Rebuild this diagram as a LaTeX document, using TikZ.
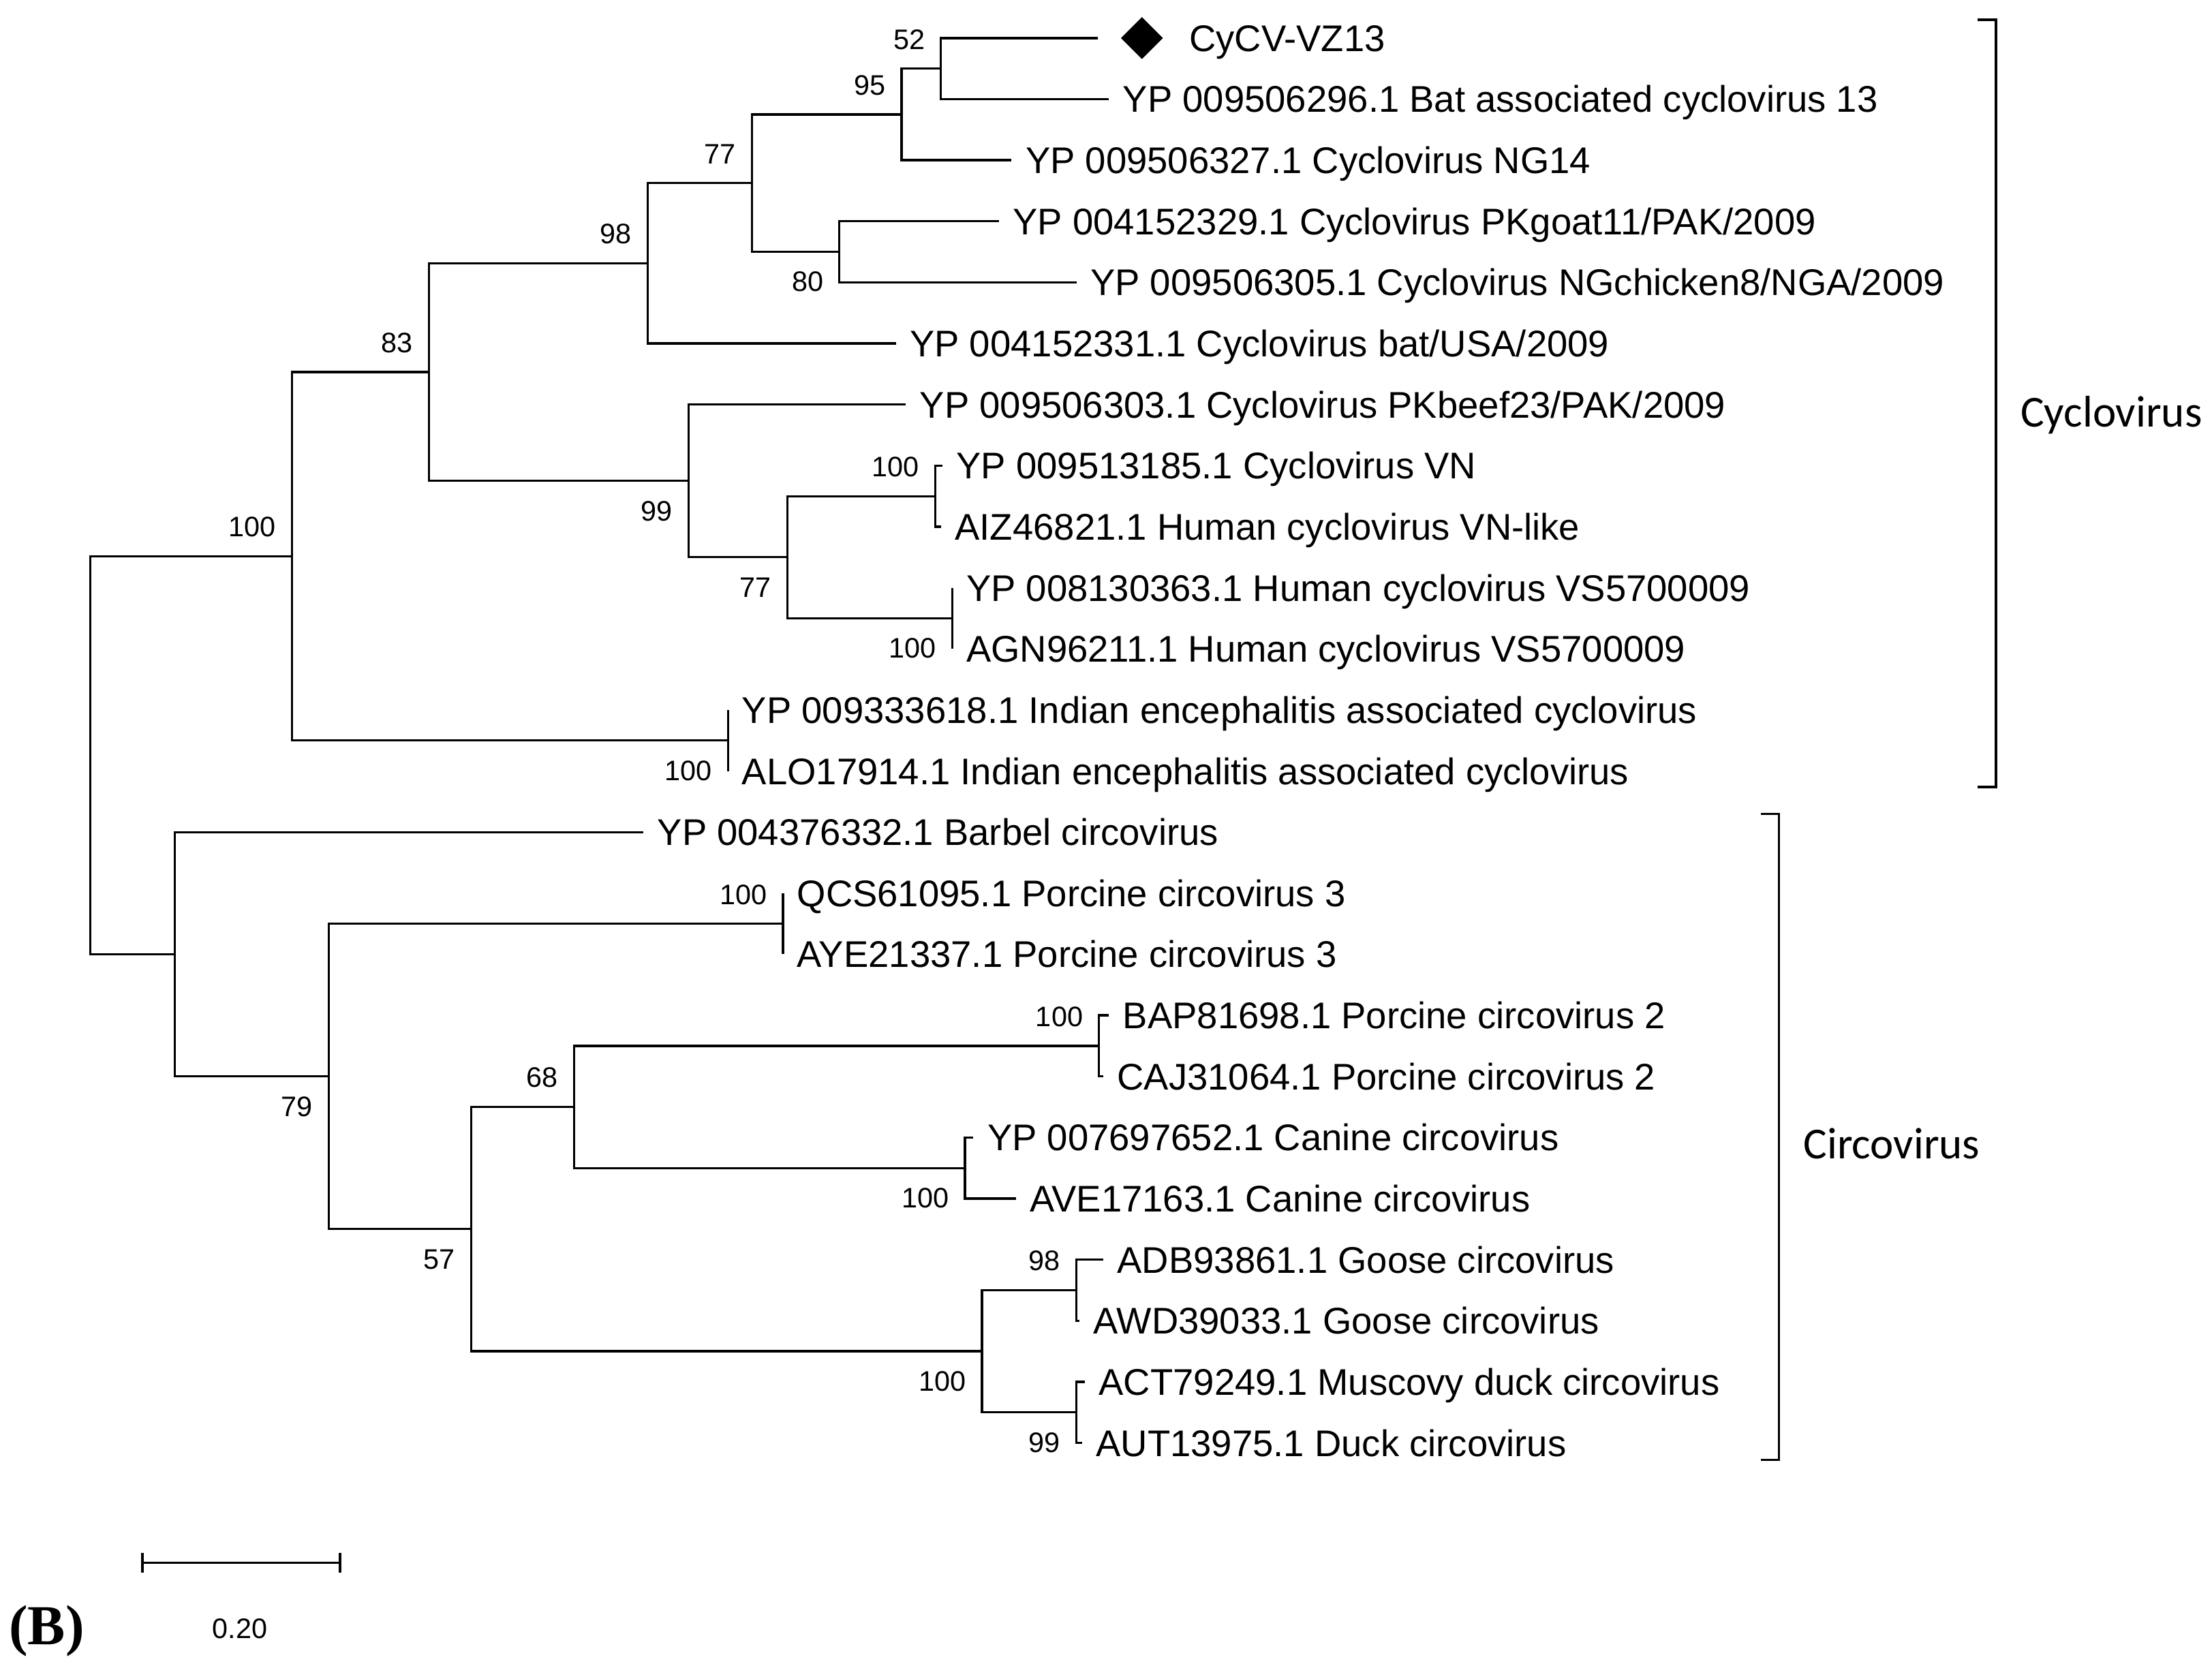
\documentclass[tikz,border=0pt]{standalone}
\usepackage{fontspec}
\setmainfont{Liberation Sans}
\newfontfamily\cladefont{Carlito}
\newfontfamily\panelfont{Liberation Serif}
\usetikzlibrary{shapes.geometric}
\begin{document}
\begin{tikzpicture}[x=0.5pt,y=-0.5pt,
  br/.style={line width=0.8pt},
  leaf/.style={anchor=west, inner sep=0pt, outer xsep=5pt, outer ysep=0pt,
    font=\fontsize{13.15}{15}\selectfont, text height=9.4pt, text depth=0pt},
  bs/.style={anchor=east, inner sep=0pt, font=\fontsize{10}{12}\selectfont,
    text height=7.2pt, text depth=0pt},
  clade/.style={anchor=west, inner sep=0pt, font=\cladefont\fontsize{15.7}{18}\selectfont,
    text height=9.9pt, text depth=0pt},
  bracket/.style={line width=0.9pt},
]
\useasboundingbox (0,0) rectangle (1568,1181);

% internal nodes
\coordinate (N52) at (667,48.65);
\coordinate (N95) at (639,81.125);
\coordinate (N80) at (595,178.55);
\coordinate (N77a) at (533,129.84);
\coordinate (N98) at (459,186.67);
\coordinate (NVN) at (663,351.75);
\coordinate (NVS) at (675,438.35);
\coordinate (N77b) at (558,395.05);
\coordinate (N99) at (488,340.93);
\coordinate (N83) at (304,263.8);
\coordinate (NIND) at (516,524.95);
\coordinate (NCYC) at (207,394.38);
\coordinate (NPCV3) at (555,654.85);
\coordinate (NPCV2) at (779,741.45);
\coordinate (NCAN) at (684,828.05);
\coordinate (N68) at (407,784.75);
\coordinate (NG98) at (763,914.65);
\coordinate (ND99) at (763,1001.25);
\coordinate (NG100) at (696,957.95);
\coordinate (N57) at (334,871.35);
\coordinate (N79) at (233,763.1);
\coordinate (NCIR) at (124,676.5);
\coordinate (ROOT) at (64,535.44);
\coordinate (t1) at (778,27);

% leaves (west anchor = branch tip; text starts 10 units further right)
\node[diamond, fill=black, inner sep=0pt, minimum width=15pt, minimum height=15pt] (dia) at (809.5,27) {};
\node[leaf] (l1) at (833,27) {CyCV-VZ13};
\node[leaf] (l2) at (786,70.3) {YP 009506296.1 Bat associated cyclovirus 13};
\node[leaf] (l3) at (717,113.6) {YP 009506327.1 Cyclovirus NG14};
\node[leaf] (l4) at (708,156.9) {YP 004152329.1 Cyclovirus PKgoat11/PAK/2009};
\node[leaf] (l5) at (763,200.2) {YP 009506305.1 Cyclovirus NGchicken8/NGA/2009};
\node[leaf] (l6) at (635,243.5) {YP 004152331.1 Cyclovirus bat/USA/2009};
\node[leaf] (l7) at (642,286.8) {YP 009506303.1 Cyclovirus PKbeef23/PAK/2009};
\node[leaf] (l8) at (668,330.1) {YP 009513185.1 Cyclovirus VN};
\node[leaf] (l9) at (667,373.4) {AIZ46821.1 Human cyclovirus VN-like};
\node[leaf] (l10) at (675,416.7) {YP 008130363.1 Human cyclovirus VS5700009};
\node[leaf] (l11) at (675,460) {AGN96211.1 Human cyclovirus VS5700009};
\node[leaf] (l12) at (516,503.3) {YP 009333618.1 Indian encephalitis associated cyclovirus};
\node[leaf] (l13) at (516,546.6) {ALO17914.1 Indian encephalitis associated cyclovirus};
\node[leaf] (l14) at (456,589.9) {YP 004376332.1 Barbel circovirus};
\node[leaf] (l15) at (555,633.2) {QCS61095.1 Porcine circovirus 3};
\node[leaf] (l16) at (555,676.5) {AYE21337.1 Porcine circovirus 3};
\node[leaf] (l17) at (786,719.8) {BAP81698.1 Porcine circovirus 2};
\node[leaf] (l18) at (782,763.1) {CAJ31064.1 Porcine circovirus 2};
\node[leaf] (l19) at (690,806.4) {YP 007697652.1 Canine circovirus};
\node[leaf] (l20) at (720,849.7) {AVE17163.1 Canine circovirus};
\node[leaf] (l21) at (782,893) {ADB93861.1 Goose circovirus};
\node[leaf] (l22) at (765,936.3) {AWD39033.1 Goose circovirus};
\node[leaf] (l23) at (769,979.6) {ACT79249.1 Muscovy duck circovirus};
\node[leaf] (l24) at (767,1022.9) {AUT13975.1 Duck circovirus};

% branches
\draw[br] (ROOT) |- (NCYC);  \draw[br] (ROOT) |- (NCIR);
\draw[br] (NCYC) |- (N83);   \draw[br] (NCYC) |- (NIND);
\draw[br] (N83) |- (N98);    \draw[br] (N83) |- (N99);
\draw[br] (N98) |- (N77a);   \draw[br] (N98) |- (l6.west);
\draw[br] (N77a) |- (N95);   \draw[br] (N77a) |- (N80);
\draw[br] (N95) |- (N52);    \draw[br] (N95) |- (l3.west);
\draw[br] (N52) |- (t1);     \draw[br] (N52) |- (l2.west);
\draw[br] (N80) |- (l4.west); \draw[br] (N80) |- (l5.west);
\draw[br] (N99) |- (l7.west); \draw[br] (N99) |- (N77b);
\draw[br] (N77b) |- (NVN);   \draw[br] (N77b) |- (NVS);
\draw[br] (NVN) |- (l8.west); \draw[br] (NVN) |- (l9.west);
\draw[br] (NVS) |- (l10.west); \draw[br] (NVS) |- (l11.west);
\draw[br] (NIND) |- (l12.west); \draw[br] (NIND) |- (l13.west);
\draw[br] (NCIR) |- (l14.west); \draw[br] (NCIR) |- (N79);
\draw[br] (N79) |- (NPCV3);  \draw[br] (N79) |- (N57);
\draw[br] (NPCV3) |- (l15.west); \draw[br] (NPCV3) |- (l16.west);
\draw[br] (N57) |- (N68);    \draw[br] (N57) |- (NG100);
\draw[br] (N68) |- (NPCV2);  \draw[br] (N68) |- (NCAN);
\draw[br] (NPCV2) |- (l17.west); \draw[br] (NPCV2) |- (l18.west);
\draw[br] (NCAN) |- (l19.west); \draw[br] (NCAN) |- (l20.west);
\draw[br] (NG100) |- (NG98); \draw[br] (NG100) |- (ND99);
\draw[br] (NG98) |- (l21.west); \draw[br] (NG98) |- (l22.west);
\draw[br] (ND99) |- (l23.west); \draw[br] (ND99) |- (l24.west);

% bootstrap values
\path (N52) ++(-11,-21) node[bs] (b1) {52};
\path (N95) ++(-11,-21) node[bs] (b2) {95};
\path (N77a) ++(-11,-21) node[bs] (b3) {77};
\path (N98) ++(-11,-21) node[bs] (b4) {98};
\path (N80) ++(-11,21) node[bs] (b5) {80};
\path (N83) ++(-11,-21) node[bs] (b6) {83};
\path (NCYC) ++(-11,-21) node[bs] (b7) {100};
\path (N99) ++(-11,21) node[bs] (b8) {99};
\path (NVN) ++(-11,-21) node[bs] (b9) {100};
\path (N77b) ++(-11,21) node[bs] (b10) {77};
\path (NVS) ++(-11,21) node[bs] (b11) {100};
\path (NIND) ++(-11,21) node[bs] (b12) {100};
\path (NPCV3) ++(-11,-21) node[bs] (b13) {100};
\path (N79) ++(-11,21) node[bs] (b14) {79};
\path (N68) ++(-11,-21) node[bs] (b15) {68};
\path (NPCV2) ++(-11,-21) node[bs] (b16) {100};
\path (NCAN) ++(-11,21) node[bs] (b17) {100};
\path (N57) ++(-11,21) node[bs] (b18) {57};
\path (NG98) ++(-11,-21) node[bs] (b19) {98};
\path (NG100) ++(-11,21) node[bs] (b20) {100};
\path (ND99) ++(-11,21) node[bs] (b21) {99};

% clade brackets
\draw[bracket] (1402,14) -- (1415,14) -- (1415,558) -- (1402,558);
\node[clade] (cyc) at (1432,292.5) {Cyclovirus};
\draw[bracket] (1248,577) -- (1261,577) -- (1261,1035) -- (1248,1035);
\node[clade] (cir) at (1278,811.5) {Circovirus};

% scale bar
\draw[br] (101,1101) -- (101,1115);
\draw[br] (241,1101) -- (241,1115);
\draw[br] (101,1108) -- (241,1108);
\node[inner sep=0pt, font=\fontsize{10}{12}\selectfont, text height=7.2pt, text depth=0pt] (sc) at (170,1154.5) {0.20};

% panel letter
\node[anchor=west, inner sep=0pt, font=\panelfont\bfseries\fontsize{20}{24}\selectfont] (pb) at (6,1156) {(B)};
\end{tikzpicture}
\end{document}
